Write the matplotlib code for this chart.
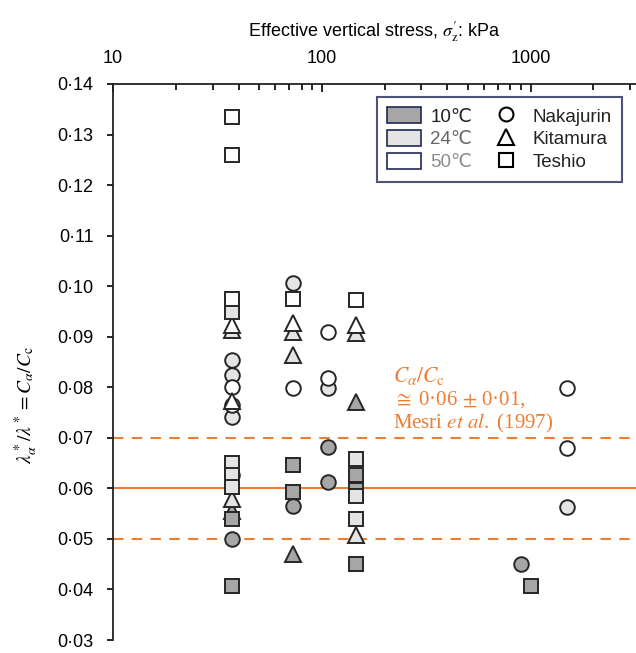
import numpy as np
import matplotlib
matplotlib.use("Agg")
import matplotlib.pyplot as plt
from matplotlib.lines import Line2D
from matplotlib.patches import Patch
from matplotlib.ticker import FixedLocator, LogLocator, NullFormatter, FuncFormatter

plt.rcParams["font.family"] = ["Liberation Sans", "DejaVu Sans"]
plt.rcParams["mathtext.fontset"] = "stix"

ORANGE = "#ED7D31"
FILLS = {"10": "#A6A6A6", "24": "#E4E4E4", "50": "#FFFFFF"}

# Nakajurin (circles)
nak_10_x = [37, 73, 107, 107, 900]
nak_10_y = [0.0500, 0.0566, 0.0681, 0.0612, 0.0451]
nak_24_x = [37, 37, 37, 37, 73, 107, 1500]
nak_24_y = [0.0853, 0.0824, 0.0742, 0.0626, 0.1006, 0.0798, 0.0564]
nak_50_x = [37, 37, 73, 107, 107, 1500, 1500]
nak_50_y = [0.0800, 0.0765, 0.0798, 0.0909, 0.0818, 0.0798, 0.0679]

# Kitamura (triangles)
kit_10_x = [37, 73, 146]
kit_10_y = [0.0556, 0.0471, 0.0770]
kit_24_x = [37, 37, 73, 73, 146, 146]
kit_24_y = [0.0913, 0.0578, 0.0909, 0.0863, 0.0907, 0.0507]
kit_50_x = [37, 37, 73, 146]
kit_50_y = [0.0923, 0.0773, 0.0927, 0.0923]

# Teshio (squares)
tes_10_x = [37, 37, 73, 73, 146, 146, 146, 1000]
tes_10_y = [0.0539, 0.0406, 0.0646, 0.0592, 0.0626, 0.0596, 0.0450, 0.0406]
tes_24_x = [37, 37, 37, 37, 146, 146, 146]
tes_24_y = [0.0949, 0.0650, 0.0626, 0.0602, 0.0659, 0.0585, 0.0539]
tes_50_x = [37, 37, 37, 73, 146]
tes_50_y = [0.1335, 0.1259, 0.0974, 0.0974, 0.0972]

mesri_mean = 0.06
mesri_band = [0.05, 0.07]

fig = plt.figure(figsize=(6.36, 6.53), dpi=100)
ax = fig.add_axes([0.1777, 0.0199, 1 - 0.1777, 0.8515])

series = [
    ("o", nak_10_x, nak_10_y, "10"), ("o", nak_24_x, nak_24_y, "24"), ("o", nak_50_x, nak_50_y, "50"),
    ("^", kit_10_x, kit_10_y, "10"), ("^", kit_24_x, kit_24_y, "24"), ("^", kit_50_x, kit_50_y, "50"),
    ("s", tes_10_x, tes_10_y, "10"), ("s", tes_24_x, tes_24_y, "24"), ("s", tes_50_x, tes_50_y, "50"),
]
z = 3
for m, xs, ys, t in series:
    ms = 11 if m == "^" else 10.5
    ax.plot(xs, ys, linestyle="none", marker=m, markersize=ms, markerfacecolor=FILLS[t],
            markeredgecolor="#262626", markeredgewidth=1.4, zorder=z)
    z += 0.1

ax.axhline(mesri_mean, color=ORANGE, lw=1.5, zorder=2)
for yb in mesri_band:
    ax.axhline(yb, color=ORANGE, lw=1.5, ls=(0, (5, 4)), zorder=2)

ax.set_xscale("log")
ax.set_xlim(10, 3200)
ax.set_ylim(0.03, 0.14)
ax.xaxis.tick_top()
ax.xaxis.set_label_position("top")
ax.xaxis.set_major_locator(FixedLocator([10, 100, 1000]))
ax.xaxis.set_minor_locator(LogLocator(base=10, subs=np.arange(2, 10)))
ax.xaxis.set_minor_formatter(NullFormatter())
ax.xaxis.set_major_formatter(FuncFormatter(lambda v, p: f"{v:.0f}"))
ax.tick_params(axis="x", which="major", direction="in", length=6, width=1.2, labelsize=13, pad=12)
ax.tick_params(axis="x", which="minor", direction="in", length=4, width=1.2)
ax.set_yticks(np.arange(0.03, 0.1401, 0.01))
ax.yaxis.set_major_formatter(FuncFormatter(lambda v, p: f"{v:.2f}".replace(".", "·")))
ax.tick_params(axis="y", direction="out", length=4, width=1.2, labelsize=13, pad=10)

for s in ["right", "bottom"]:
    ax.spines[s].set_visible(False)
for s in ["top", "left"]:
    ax.spines[s].set_linewidth(1.3)
    ax.spines[s].set_color("#222222")

ax.set_xlabel(r"Effective vertical stress, $\sigma_{\mathrm{z}}'$: kPa", fontsize=13, labelpad=10)
fig.text(0.042, 0.38, r"$\lambda^*_\alpha/\lambda^* = C_\alpha/C_\mathrm{c}$", rotation=90,
         fontsize=14, ha="center", va="center")

ax.text(393 / 636, 1 - 376 / 653, r"$C_\alpha/C_\mathrm{c}$", transform=fig.transFigure,
        color=ORANGE, fontsize=15.5, ha="left", va="center", family="Liberation Serif")
ax.text(393 / 636, 1 - 400 / 653, r"$\cong$ 0·06 $\pm$ 0·01,", transform=fig.transFigure,
        color=ORANGE, fontsize=15, ha="left", va="center", family="Liberation Serif")
ax.text(393 / 636, 1 - 423 / 653, r"Mesri $\mathit{et\ al.}$ (1997)", transform=fig.transFigure,
        color=ORANGE, fontsize=15, ha="left", va="center", family="Liberation Serif")

ek = dict(edgecolor="#1F2A55", linewidth=1.2)
handles = [
    Patch(facecolor=FILLS["10"], **ek), Patch(facecolor=FILLS["24"], **ek), Patch(facecolor=FILLS["50"], **ek),
    Line2D([], [], ls="none", marker="o", ms=10, mfc="white", mec="black", mew=1.5),
    Line2D([], [], ls="none", marker="^", ms=11, mfc="white", mec="black", mew=1.5),
    Line2D([], [], ls="none", marker="s", ms=10, mfc="white", mec="black", mew=1.5),
]
labels = ["10℃", "24℃", "50℃", "Nakajurin", "Kitamura", "Teshio"]
leg = ax.legend(handles, labels, ncol=2, loc="upper right", bbox_to_anchor=(622 / 636, 1 - 97 / 653),
                bbox_transform=fig.transFigure, borderaxespad=0, fontsize=13.5, frameon=True,
                fancybox=False, edgecolor="#1F2A55", handlelength=1.8, handleheight=0.9,
                handletextpad=0.5, columnspacing=0.9, labelspacing=0.25, borderpad=0.55)
leg.get_frame().set_linewidth(1.5)
tcols = ["#222222", "#666666", "#8C8C8C", "#222222", "#222222", "#222222"]
for txt, c in zip(leg.get_texts(), tcols):
    txt.set_color(c)

fig.savefig("out.png", dpi=100)
